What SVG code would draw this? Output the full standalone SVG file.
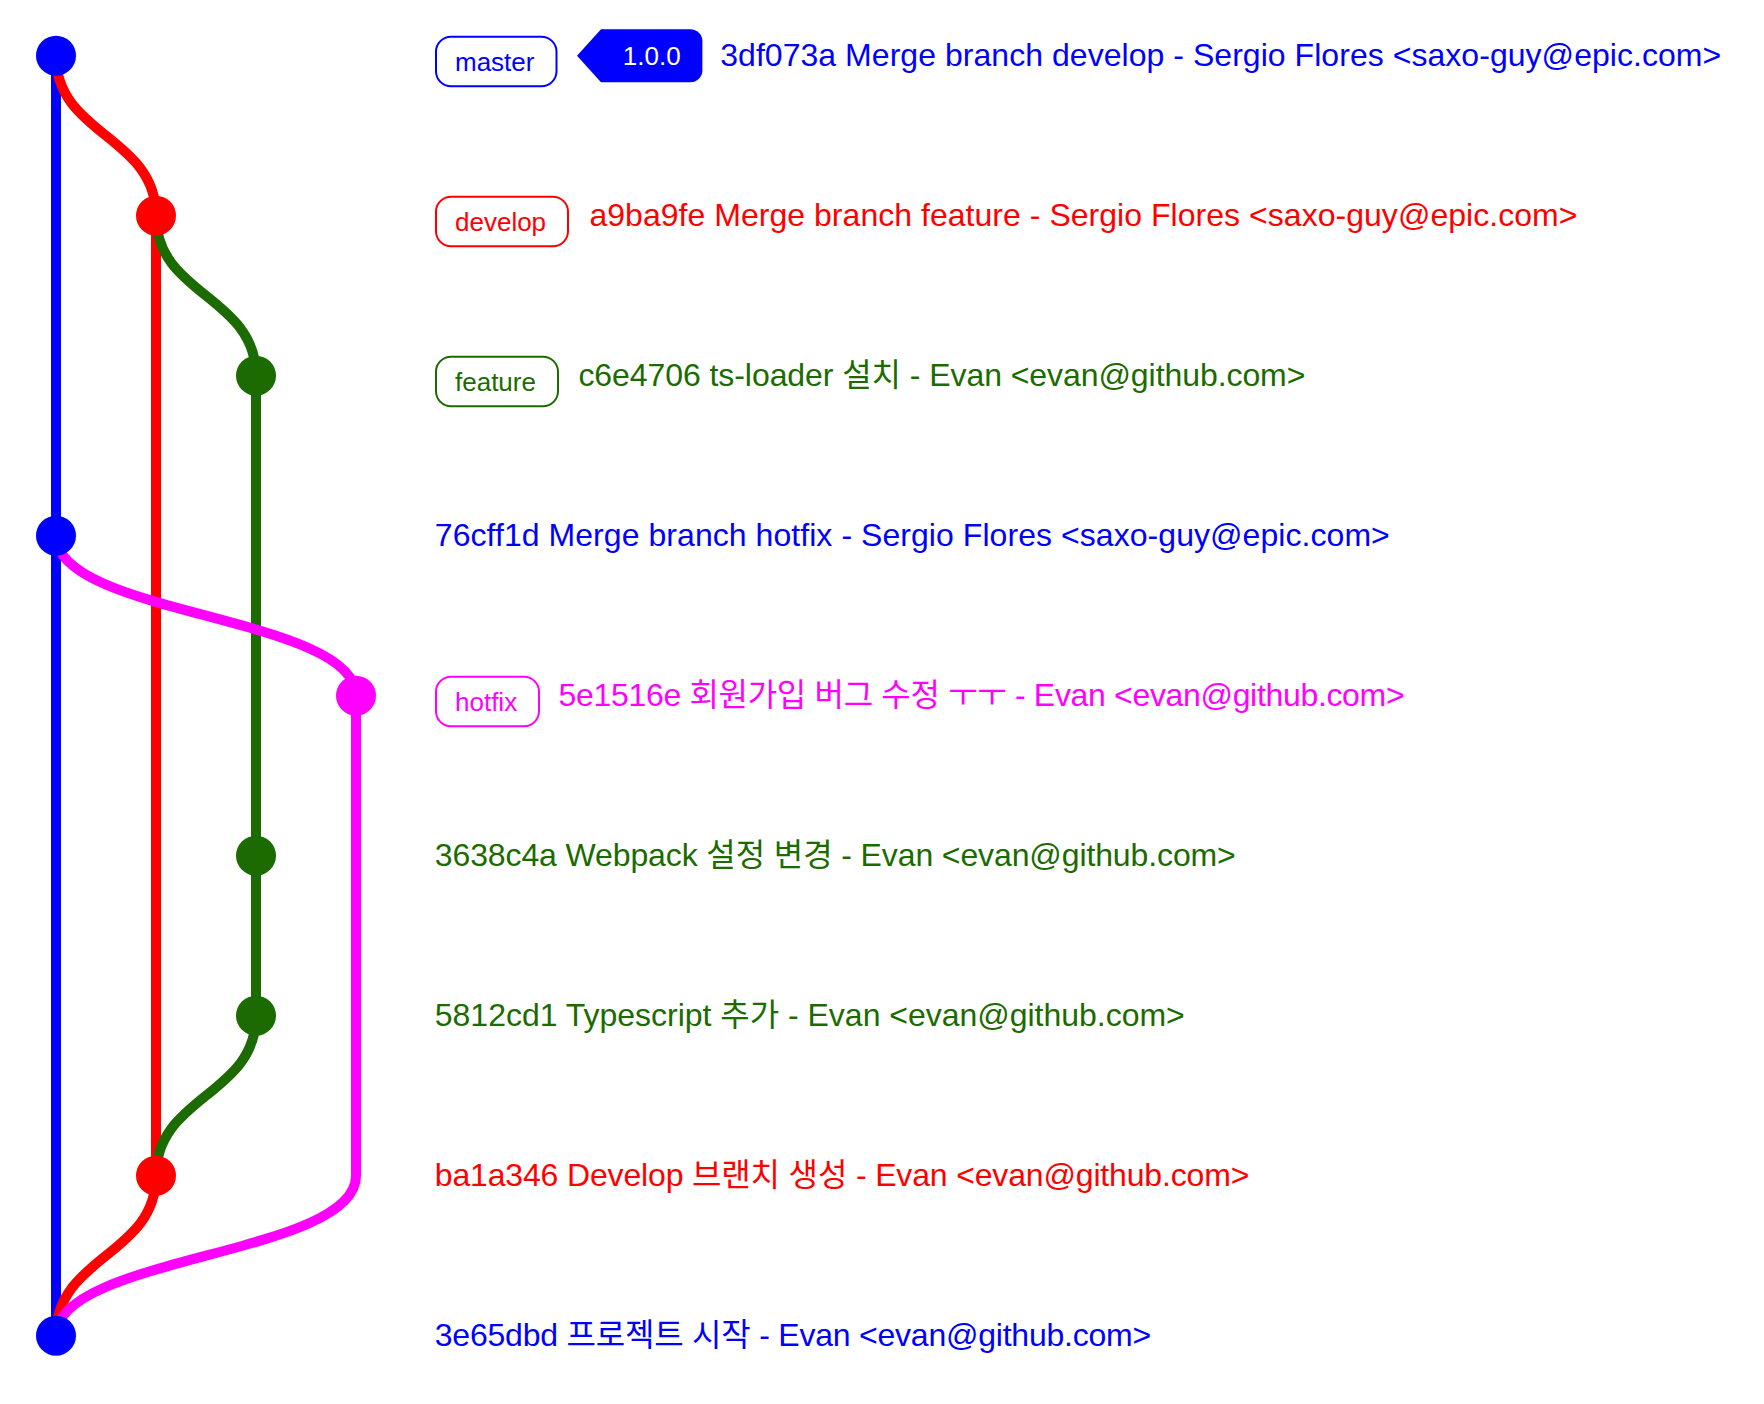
<svg xmlns="http://www.w3.org/2000/svg" width="1764" height="1404" viewBox="0 0 1764 1404">
<style>
  .br { fill: none; stroke-width: 10; }
  .msg { font-family: "Liberation Sans", "Noto Sans CJK KR", sans-serif; font-size: 32px; }
  .lbl { font-family: "Liberation Sans", sans-serif; font-size: 26px; }
  .box { fill: #ffffff; stroke-width: 2; }
  .blue { fill: #0000ff; }
  .red { fill: #ff0000; }
  .green { fill: #1c6b00; }
  .magenta { fill: #ff00ff; }
</style>
<rect width="1764" height="1404" fill="#ffffff"/>
<g id="connectors">
  <path class="br" stroke="#0000ff" d="M56 55.7 L56 1335.7"/>
  <path class="br" stroke="#ff0000" d="M56 1335.7 C56 1255.7 156 1255.7 156 1175.7 L156 215.7 C156 135.7 56 135.7 56 55.7"/>
  <path class="br" stroke="#1c6b00" d="M156 1175.7 C156 1095.7 256 1095.7 256 1015.7 L256 375.7 C256 295.7 156 295.7 156 215.7"/>
  <path class="br" stroke="#ff00ff" d="M56 1335.7 C56 1255.7 356 1255.7 356 1175.7 L356 695.7 C356 615.7 56 615.7 56 535.7"/>
</g>
<g id="commit-3df073a">
  <circle class="blue" cx="56" cy="55.7" r="20"/>
  <rect class="box" x="436" y="36.7" width="120.5" height="49.6" rx="15" stroke="#0000ff"/>
  <text class="lbl blue" x="455" y="70.5">master</text>
  <path class="blue" d="M577 55.7 L601 29.3 L690.4 29.3 A12 12 0 0 1 702.4 41.3 L702.4 70.3 A12 12 0 0 1 690.4 82.3 L601 82.3 Z"/>
  <text class="lbl" x="651.7" y="65" fill="#ffffff" text-anchor="middle">1.0.0</text>
  <text class="msg blue" x="720.2" y="65.7" textLength="1001">3df073a Merge branch develop - Sergio Flores &lt;saxo-guy@epic.com&gt;</text>
</g>
<g id="commit-a9ba9fe">
  <circle class="red" cx="156" cy="215.7" r="20"/>
  <rect class="box" x="436" y="196.7" width="132" height="49.6" rx="15" stroke="#ff0000"/>
  <text class="lbl red" x="455" y="230.5">develop</text>
  <text class="msg red" x="589.4" y="225.7" textLength="988">a9ba9fe Merge branch feature - Sergio Flores &lt;saxo-guy@epic.com&gt;</text>
</g>
<g id="commit-c6e4706">
  <circle class="green" cx="256" cy="375.7" r="20"/>
  <rect class="box" x="436" y="356.7" width="122" height="49.6" rx="15" stroke="#1c6b00"/>
  <text class="lbl green" x="455" y="390.5">feature</text>
  <text class="msg green" x="578.4" y="385.7" textLength="727">c6e4706 ts-loader 설치 - Evan &lt;evan@github.com&gt;</text>
</g>
<g id="commit-76cff1d">
  <circle class="blue" cx="56" cy="535.7" r="20"/>
  <text class="msg blue" x="434.8" y="545.7" textLength="955">76cff1d Merge branch hotfix - Sergio Flores &lt;saxo-guy@epic.com&gt;</text>
</g>
<g id="commit-5e1516e">
  <circle class="magenta" cx="356" cy="695.7" r="20"/>
  <rect class="box" x="436" y="676.7" width="103" height="49.6" rx="15" stroke="#ff00ff"/>
  <text class="lbl magenta" x="455" y="710.5">hotfix</text>
  <text class="msg magenta" x="558.6" y="705.7" textLength="846">5e1516e 회원가입 버그 수정 ㅜㅜ - Evan &lt;evan@github.com&gt;</text>
</g>
<g id="commit-3638c4a">
  <circle class="green" cx="256" cy="855.7" r="20"/>
  <text class="msg green" x="434.8" y="865.7" textLength="801">3638c4a Webpack 설정 변경 - Evan &lt;evan@github.com&gt;</text>
</g>
<g id="commit-5812cd1">
  <circle class="green" cx="256" cy="1015.7" r="20"/>
  <text class="msg green" x="434.8" y="1025.7" textLength="750">5812cd1 Typescript 추가 - Evan &lt;evan@github.com&gt;</text>
</g>
<g id="commit-ba1a346">
  <circle class="red" cx="156" cy="1175.7" r="20"/>
  <text class="msg red" x="434.8" y="1185.7" textLength="814.6">ba1a346 Develop 브랜치 생성 - Evan &lt;evan@github.com&gt;</text>
</g>
<g id="commit-3e65dbd">
  <circle class="blue" cx="56" cy="1335.7" r="20"/>
  <text class="msg blue" x="434.8" y="1345.7" textLength="716.4">3e65dbd 프로젝트 시작 - Evan &lt;evan@github.com&gt;</text>
</g>
</svg>
